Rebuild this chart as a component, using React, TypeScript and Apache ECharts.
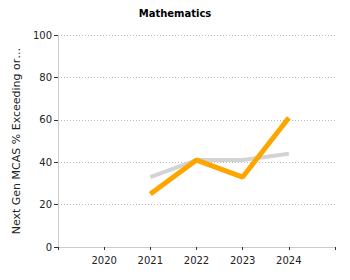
import React, { useEffect, useRef } from "react";
import * as echarts from "echarts";

const years = [2020, 2021, 2022, 2023, 2024];
const schoolYears = [2021, 2022, 2023, 2024];
const schoolValues = [25, 41, 33, 61];
const stateValues = [33, 41, 41, 44];
const yTicks = [0, 20, 40, 60, 80, 100];

export default function App() {
  const ref = useRef<HTMLDivElement>(null);
  useEffect(() => {
    const chart = echarts.init(ref.current!, null, { renderer: "svg" });
    const font = "DejaVu Sans";
    chart.setOption({
      animation: false,
      title: {
        text: "Mathematics",
        left: "center",
        top: 3,
        textStyle: { fontFamily: font, fontSize: 10, fontWeight: "bold", color: "#000" },
      },
      grid: { left: 58, right: 15, top: 35, bottom: 33, containLabel: false },
      xAxis: {
        type: "value",
        min: 2019,
        max: 2025,
        interval: 1,
        splitLine: { show: false },
        axisLine: { show: true, lineStyle: { color: "#ccc", width: 1 } },
        axisTick: { show: true, length: 3, lineStyle: { color: "#333" } },
        axisLabel: {
          customValues: years,
          fontFamily: font,
          fontSize: 10,
          color: "#222",
          margin: 8,
          formatter: (v: number) => String(v),
        },
      },
      yAxis: {
        type: "value",
        min: yTicks[0],
        max: yTicks[yTicks.length - 1],
        interval: 20,
        name: "Next Gen MCAS % Exceeding or…",
        nameLocation: "middle",
        nameGap: 32,
        nameTextStyle: { fontFamily: font, fontSize: 11, color: "#222" },
        axisLine: { show: true, lineStyle: { color: "#ccc", width: 1 } },
        axisTick: { show: true, length: 4, lineStyle: { color: "#333" } },
        axisLabel: { fontFamily: font, fontSize: 10, color: "#222", margin: 6 },
        splitLine: { show: true, lineStyle: { color: "#bbb", type: [1, 2], width: 1 } },
      },
      series: [
        {
          type: "line",
          data: schoolYears.map((y, i) => [y, stateValues[i]]),
          showSymbol: false,
          lineStyle: { color: "#d3d3d3", width: 4 },
          z: 1,
        },
        {
          type: "line",
          data: schoolYears.map((y, i) => [y, schoolValues[i]]),
          showSymbol: false,
          lineStyle: { color: "#ffa500", width: 5 },
          z: 2,
        },
      ],
    });
    return () => chart.dispose();
  }, []);
  return <div ref={ref} style={{ width: 350, height: 280, position: "absolute", left: 0, top: 0 }} />;
}
